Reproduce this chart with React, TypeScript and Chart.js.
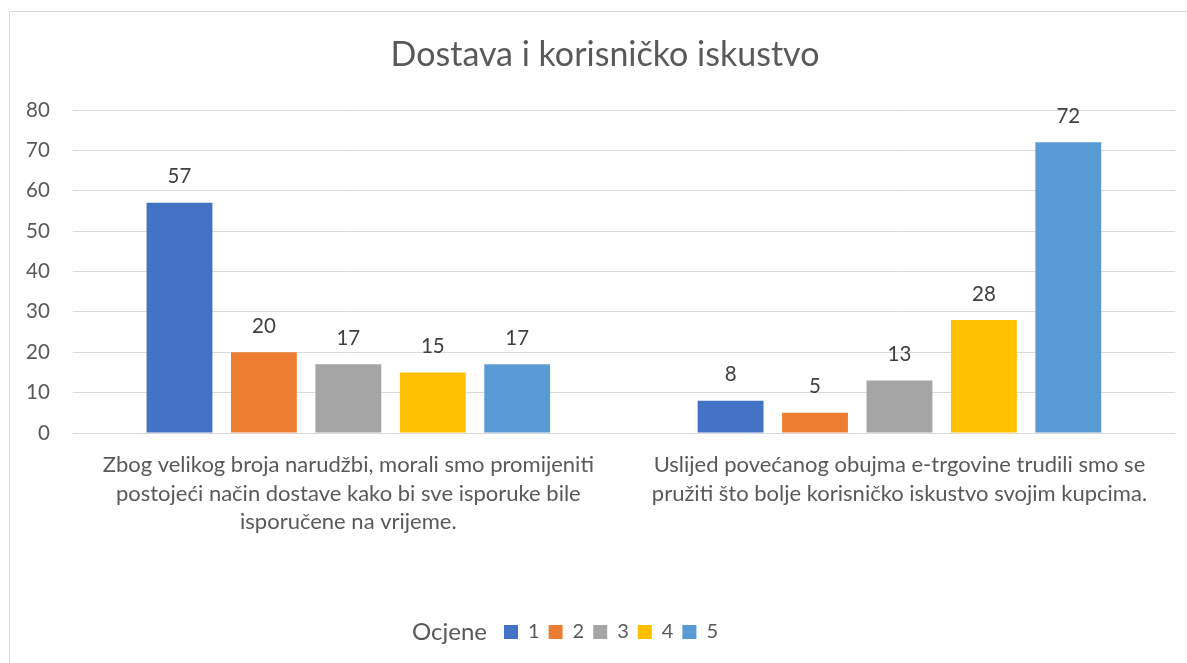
import React, { useEffect, useRef } from "react";
import { Chart, registerables } from "chart.js";

Chart.register(...registerables);

const chartTitle = "Dostava i korisničko iskustvo";
const legendTitle = "Ocjene";
const categories: string[][] = [
  [
    "Zbog velikog broja narudžbi, morali smo promijeniti",
    "postojeći način dostave kako bi sve isporuke bile",
    "isporučene na vrijeme.",
  ],
  [
    "Uslijed povećanog obujma e-trgovine trudili smo se",
    "pružiti što bolje korisničko iskustvo svojim kupcima.",
  ],
];
const seriesNames = ["1", "2", "3", "4", "5"];
const series1 = [57, 8];
const series2 = [20, 5];
const series3 = [17, 13];
const series4 = [15, 28];
const series5 = [17, 72];
const seriesColors = ["#4472C4", "#ED7D31", "#A5A5A5", "#FFC000", "#5B9BD5"];
const yMin = 0;
const yMax = 80;
const yStep = 10;

const FONT = "Lato, 'Open Sans', sans-serif";

const dataLabelsPlugin = {
  id: "dataLabels",
  afterDatasetsDraw(chart: any) {
    const ctx = chart.ctx;
    ctx.save();
    ctx.font = `20.5px ${FONT}`;
    ctx.fillStyle = "#404040";
    ctx.textAlign = "center";
    ctx.textBaseline = "middle";
    chart.data.datasets.forEach((ds: any, i: number) => {
      const meta = chart.getDatasetMeta(i);
      if (meta.hidden) return;
      meta.data.forEach((bar: any, j: number) => {
        ctx.fillText(String(ds.data[j]), bar.x, bar.y - 26);
      });
    });
    ctx.restore();
  },
};

const layoutShiftPlugin = {
  id: "layoutShift",
  afterLayout(chart: any) {
    const l = chart.legend;
    if (l) {
      l.left += 22;
      l.right += 22;
    }
    const t = chart.titleBlock;
    if (t) {
      t.left += 16;
      t.right += 16;
    }
  },
  afterDraw(chart: any) {
    const l = chart.legend;
    if (!l || !l.legendHitBoxes || !l.legendHitBoxes.length) return;
    const hb = l.legendHitBoxes[0];
    const ctx = chart.ctx;
    ctx.save();
    ctx.font = `24px ${FONT}`;
    ctx.fillStyle = "#595959";
    ctx.textAlign = "right";
    ctx.textBaseline = "middle";
    ctx.fillText(legendTitle, hb.left - 17, hb.top + hb.height / 2);
    ctx.restore();
  },
};

export default function App() {
  const canvasRef = useRef<HTMLCanvasElement | null>(null);

  useEffect(() => {
    if (!canvasRef.current) return;
    const seriesValues = [series1, series2, series3, series4, series5];
    const chart = new Chart(canvasRef.current, {
      type: "bar",
      data: {
        labels: categories,
        datasets: seriesNames.map((name, i) => ({
          label: name,
          data: seriesValues[i],
          backgroundColor: seriesColors[i],
          borderWidth: 0,
          categoryPercentage: 0.766,
          barPercentage: 0.78,
        })),
      },
      options: {
        responsive: false,
        animation: false,
        devicePixelRatio: 1,
        layout: { padding: { left: -7, right: 27, top: 0, bottom: 11 } },
        plugins: {
          title: {
            display: true,
            text: chartTitle,
            color: "#595959",
            font: { family: FONT, size: 34, weight: "normal" },
            padding: { top: 22.6, bottom: 34.6 },
          },
          legend: {
            display: true,
            position: "bottom",
            labels: {
              boxWidth: 14,
              boxHeight: 14,
              padding: 9,
              color: "#595959",
              font: { family: FONT, size: 20 },
            },
          },
          tooltip: { enabled: false },
        },
        scales: {
          x: {
            grid: { display: false, drawTicks: false },
            border: { display: false },
            ticks: {
              color: "#595959",
              font: { family: FONT, size: 22, lineHeight: 1.3 },
              padding: 17.7,
              maxRotation: 0,
              autoSkip: false,
            },
            afterFit(scale: any) {
              scale.height = 180;
            },
          },
          y: {
            min: yMin,
            max: yMax,
            grid: { color: "#D9D9D9", lineWidth: 1, drawTicks: false },
            border: { display: false },
            ticks: {
              stepSize: yStep,
              color: "#595959",
              font: { family: FONT, size: 20.5 },
              padding: 23,
            },
          },
        },
      },
      plugins: [dataLabelsPlugin, layoutShiftPlugin],
    });
    return () => chart.destroy();
  }, []);

  return (
    <div
      style={{
        position: "fixed",
        left: 0,
        top: 0,
        width: 1187,
        height: 663,
        overflow: "hidden",
        background: "#ffffff",
      }}
    >
      <div
        style={{
          position: "absolute",
          left: 9,
          top: 11,
          width: 1192,
          height: 700,
          border: "1px solid #D9D9D9",
          boxSizing: "content-box",
        }}
      >
        <canvas
          ref={canvasRef}
          width={1192}
          height={651}
          style={{ display: "block", width: 1192, height: 651 }}
        />
      </div>
    </div>
  );
}
